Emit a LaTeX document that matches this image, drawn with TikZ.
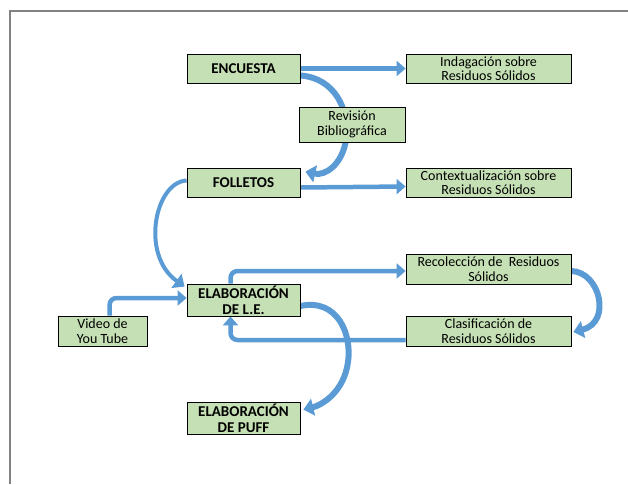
\documentclass[tikz,border=0pt]{standalone}
\usepackage{fontspec}
\setmainfont{Carlito}
\usetikzlibrary{arrows.meta,backgrounds}
\definecolor{boxgreen}{RGB}{197,224,180}
\definecolor{arrblue}{RGB}{91,155,213}
\definecolor{framegray}{RGB}{130,130,130}
\tikzset{
	caja/.style={draw=black,fill=boxgreen,line width=0.8pt,inner sep=0pt,align=center,font=\fontsize{14}{14.5}\selectfont},
	negrita/.style={font=\fontsize{15}{16}\selectfont\bfseries},
	flecha/.style={draw=arrblue,line width=4.5pt,-{Triangle[width=15pt,length=9pt]}},
	curva/.style={draw=arrblue,line width=6pt,-{Triangle[width=17pt,length=10pt]}}
}

\begin{document}
\begin{tikzpicture}[x=1pt,y=-1pt]
	\useasboundingbox (0,0) rectangle (628,484);
	\draw[framegray,line width=1.2pt] (10,484)--(10,11)--(628,11);
	\node[caja,negrita,minimum width=113pt,minimum height=29pt] (enc) at (243.5,68.5) {ENCUESTA};
	\node[caja,minimum width=165pt,minimum height=29pt] (ind) at (488.5,68.5) {Indagación sobre\\Residuos Sólidos};
	\node[caja,minimum width=106pt,minimum height=35pt] (rev) at (352,124.5) {Revisión\\Bibliográfica};
	\node[caja,negrita,minimum width=113pt,minimum height=29pt] (fol) at (243.5,182.5) {FOLLETOS};
	\node[caja,minimum width=165pt,minimum height=29pt] (con) at (488.5,182.5) {Contextualización sobre\\Residuos Sólidos};
	\node[caja,minimum width=165pt,minimum height=30pt] (rec) at (488.5,269) {Recolección de~ Residuos\\Sólidos};
	\node[caja,minimum width=165pt,minimum height=30pt] (cla) at (488.5,331) {Clasificación de\\Residuos Sólidos};
	\node[caja,negrita,minimum width=113pt,minimum height=32pt] (ela) at (243.5,300) {ELABORACIÓN\\DE L.E.};
	\node[caja,minimum width=89pt,minimum height=30pt] (vid) at (102.5,331) {Video de\\You Tube};
	\node[caja,negrita,minimum width=113pt,minimum height=32pt] (puf) at (243.5,418) {ELABORACIÓN\\DE PUFF};
	\begin{scope}[on background layer]
		\draw[flecha] (enc.east) -- (ind.west);
		\draw[curva] ([yshift=-7pt]enc.east) .. controls (335,78) and (350,110) .. (346,140) .. controls (342,165) and (325,176) .. ([xshift=5pt,yshift=-4pt]fol.north east);
		\draw[flecha] ([yshift=-5pt]fol.east) -- ([yshift=-4pt]con.west);
		\draw[curva,line width=4pt] ([yshift=2pt]fol.west) .. controls (155,182) and (140,255) .. ([xshift=-2pt,yshift=-3pt]ela.north west);
		\draw[flecha,rounded corners=7pt] ([xshift=-13pt]ela.north) |- ([yshift=-2pt]rec.west);
		\draw[curva] ([yshift=-2pt]rec.east) .. controls (600,272) and (612,322) .. ([xshift=2pt,yshift=-1pt]cla.east);
		\draw[flecha,rounded corners=7pt] ([yshift=-9pt]cla.west) -| ([xshift=-13pt]ela.south);
		\draw[flecha,rounded corners=7pt] ([xshift=7pt]vid.north) |- ([yshift=2pt]ela.west);
		\draw[curva] ([yshift=-6pt]ela.east) .. controls (338,298) and (352,335) .. (348,362) .. controls (344,392) and (322,405) .. ([xshift=3pt,yshift=-8pt]puf.north east);
	\end{scope}
\end{tikzpicture}
\end{document}
